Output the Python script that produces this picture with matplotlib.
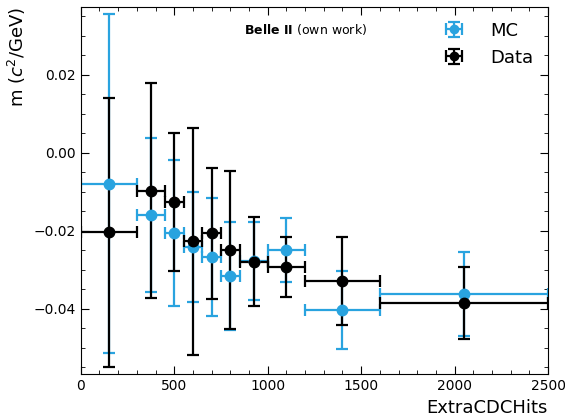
import numpy as np
import matplotlib
matplotlib.use("Agg")
import matplotlib.pyplot as plt
from matplotlib.ticker import AutoMinorLocator
from matplotlib.legend_handler import HandlerErrorbar

# bin edges in ExtraCDCHits
edges = [0, 300, 450, 550, 650, 750, 850, 1000, 1200, 1600, 2500]
centers = [150, 375, 500, 600, 700, 800, 925, 1100, 1400, 2050]

mc_val = [-0.0079, -0.0159, -0.0205, -0.0241, -0.0267, -0.0316, -0.0277, -0.0249, -0.0403, -0.0362]
mc_err = [0.0435, 0.0197, 0.0187, 0.0141, 0.0151, 0.0138, 0.0100, 0.0083, 0.0100, 0.0108]

data_val = [-0.0203, -0.0097, -0.0125, -0.0226, -0.0206, -0.0249, -0.0279, -0.0292, -0.0328, -0.0385]
data_err = [0.0345, 0.0276, 0.0177, 0.0291, 0.0168, 0.0203, 0.0114, 0.0077, 0.0113, 0.0092]

blue = "#29a3df"

e = np.array(edges)
c = np.array(centers)
xerr = [c - e[:-1], e[1:] - c]

fig = plt.figure(figsize=(5.65, 4.18), dpi=100)
ax = fig.add_axes([0.143, 0.105, 0.827, 0.878])

mc = ax.errorbar(c, mc_val, yerr=mc_err, xerr=xerr, fmt="o", color=blue,
                 markersize=7.5, elinewidth=1.6, capsize=4, capthick=1.6, label="MC")
dt = ax.errorbar(c, data_val, yerr=data_err, xerr=xerr, fmt="o", color="black",
                 markersize=7.5, elinewidth=1.6, capsize=4, capthick=1.6, label="Data")

ax.set_xlim(0, 2500)
ax.set_ylim(-0.0567, 0.0374)
ax.set_xticks([0, 500, 1000, 1500, 2000, 2500])
ax.set_yticks([-0.04, -0.02, 0.0, 0.02])
ax.set_yticklabels(["\u22120.04", "\u22120.02", "0.00", "0.02"])
ax.xaxis.set_minor_locator(AutoMinorLocator(5))
ax.yaxis.set_minor_locator(AutoMinorLocator(4))
ax.tick_params(which="both", direction="in", top=True, right=True, labelsize=10)
ax.tick_params(which="major", length=6)
ax.tick_params(which="minor", length=3)

ax.set_xlabel("ExtraCDCHits", fontsize=13, loc="right")
ax.set_ylabel("m ($c^2$/GeV)", fontsize=13, loc="top")

ax.text(0.35, 0.94, r"$\bf{Belle\ II}$ (own work)", transform=ax.transAxes,
        fontsize=9, ha="left", va="center")

hm = {mc: HandlerErrorbar(xerr_size=0.42), dt: HandlerErrorbar(xerr_size=0.42)}
ax.legend(loc="upper right", frameon=False, fontsize=13, handlelength=1.0,
          handletextpad=1.5, markerscale=0.8, handler_map=hm,
          bbox_to_anchor=(1.003, 1.005))

fig.savefig("out.png", dpi=100)
